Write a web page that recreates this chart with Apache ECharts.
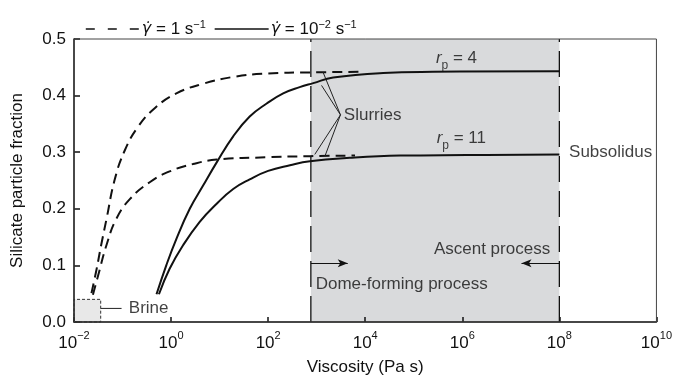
<!DOCTYPE html>
<html><head><meta charset="utf-8">
<script src="https://cdn.jsdelivr.net/npm/echarts@6/dist/echarts.min.js"></script>
<style>html,body{margin:0;padding:0;background:#fff}#c{width:675px;height:381px}</style>
</head><body><div id="c"></div>
<script>
// x values are log10 of viscosity (Pa s); y values are silicate particle fraction
const dashedRp4LogVisc = [-1.64, -1.54, -1.44, -1.33, -1.16, -0.955, -0.68, -0.32, 0.11, 0.66, 1.28, 1.97, 2.86, 3.93];
const dashedRp4Frac    = [0.051, 0.091, 0.136, 0.182, 0.252, 0.303, 0.345, 0.379, 0.404, 0.421, 0.433, 0.439, 0.441, 0.442];
const dashedRp11LogVisc = [-1.61, -1.50, -1.33, -1.13, -0.85, -0.44, -0.03, 0.45, 0.94, 1.97, 2.86, 3.79];
const dashedRp11Frac    = [0.048, 0.083, 0.136, 0.182, 0.217, 0.247, 0.266, 0.279, 0.287, 0.291, 0.293, 0.294];
const solidRp4LogVisc = [-0.30, -0.095, 0.11, 0.385, 0.66, 0.94, 1.28, 1.62, 1.97, 2.31, 2.65, 2.93, 3.34, 4.37, 5.4, 8];
const solidRp4Frac    = [0.049, 0.101, 0.147, 0.200, 0.241, 0.282, 0.328, 0.363, 0.386, 0.404, 0.415, 0.422, 0.432, 0.440, 0.442, 0.443];
const solidRp11LogVisc = [-0.25, -0.03, 0.25, 0.59, 0.94, 1.28, 1.62, 2.0, 2.45, 2.86, 3.68, 4.72, 6.09, 8];
const solidRp11Frac    = [0.049, 0.094, 0.136, 0.177, 0.209, 0.235, 0.252, 0.267, 0.277, 0.284, 0.290, 0.294, 0.295, 0.296];

const xTickExponents = [-2, 0, 2, 4, 6, 8, 10];
const yTicks = [0.0, 0.1, 0.2, 0.3, 0.4, 0.5];
const legendNames = ['γ̇ = 1 s⁻¹', 'γ̇ = 10⁻² s⁻¹'];
const shadeLogRange = [2.88, 8];      // slurry window in log10 viscosity
const brineLogRange = [-2, -1.45];
const brineFracMax = 0.04;

const FONT = 'Liberation Sans, Arial, sans-serif';
const FS = 17;
const pairs = (xs, ys) => xs.map((x, i) => [x, ys[i]]);
const supExp = v => (v < 0 ? '−' + (-v) : String(v));

const chart = echarts.init(document.getElementById('c'), null, {renderer: 'canvas'});

const curve = (name, xs, ys, dashed) => ({
  type: 'line', name, data: pairs(xs, ys), symbol: 'none', smooth: 0.45,
  itemStyle: {color: '#111'},
  lineStyle: {color: '#111', width: 2, type: dashed ? [10, 6] : 'solid'}, z: 4, silent: true
});
const thin = (pts, extra) => Object.assign({
  type: 'line', data: pts, symbol: 'none', silent: true, z: 5,
  lineStyle: {color: '#222', width: 1}
}, extra || {});
const textAt = (pt, text, pos, extra) => ({
  type: 'scatter', data: [pt], symbolSize: 0, silent: true, z: 6,
  label: Object.assign({show: true, position: pos, formatter: text, color: '#111',
    fontFamily: FONT, fontSize: FS, distance: 0,
    rich: {
      i: {fontStyle: 'italic', fontSize: FS, fontFamily: FONT, color: '#111', lineHeight: 17, verticalAlign: 'top'},
      sub: {fontSize: 12, fontFamily: FONT, color: '#111', lineHeight: 22, verticalAlign: 'bottom'},
      t: {fontSize: FS, fontFamily: FONT, color: '#111', lineHeight: 17, verticalAlign: 'top'}
    }}, extra || {})
});

const option = {
  animation: false,
  backgroundColor: '#fff',
  grid: {left: 74, right: 18, top: 39, bottom: 57, show: true, borderColor: '#444', borderWidth: 1, z: 10},
  legend: {
    top: 14, left: 80, itemWidth: 54, itemHeight: 14, itemGap: 8, selectedMode: false,
    data: [
      {name: legendNames[0], itemStyle: {opacity: 0}, lineStyle: {type: [9, 13], width: 1.6, color: '#111'}},
      {name: legendNames[1], itemStyle: {opacity: 0}, lineStyle: {type: 'solid', width: 1.6, color: '#111'}}
    ],
    formatter: n => n === legendNames[0]
      ? '{g|γ̇} = 1 s{sup|−1}'
      : '{g|γ̇} = 10{sup|−2} s{sup|−1}',
    textStyle: {fontFamily: FONT, fontSize: FS, color: '#111', padding: [0, 0, 0, -3],
      rich: {
        g: {fontStyle: 'italic', fontFamily: 'DejaVu Sans, sans-serif', fontSize: 16, color: '#111', lineHeight: 20},
        sup: {fontFamily: FONT, fontSize: 11, color: '#111', verticalAlign: 'top', lineHeight: 12}
      }}
  },
  xAxis: {
    type: 'value', min: -2, max: 10, interval: 2, z: 8,
    name: 'Viscosity (Pa s)', nameLocation: 'middle', nameGap: 37,
    nameTextStyle: {fontFamily: FONT, fontSize: FS, color: '#111'},
    axisLine: {onZero: false, lineStyle: {color: '#111', width: 1.5}},
    axisTick: {inside: true, length: 5, lineStyle: {color: '#111', width: 1.5}},
    splitLine: {show: false},
    axisLabel: {
      margin: 8, color: '#111', fontFamily: FONT, fontSize: FS,
      formatter: v => xTickExponents.includes(v) ? '{b|10}{sup|' + supExp(v) + '}' : '',
      rich: {
        b: {fontFamily: FONT, fontSize: FS, color: '#111', lineHeight: 22, verticalAlign: 'bottom'},
        sup: {fontFamily: FONT, fontSize: 11, color: '#111', lineHeight: 12, verticalAlign: 'top'}
      }
    }
  },
  yAxis: {
    type: 'value', min: 0, max: 0.5, interval: 0.1, z: 8,
    name: 'Silicate particle fraction', nameLocation: 'middle', nameGap: 48,
    nameTextStyle: {fontFamily: FONT, fontSize: FS, color: '#111'},
    axisLine: {show: true, onZero: false, lineStyle: {color: '#111', width: 1.5}},
    axisTick: {show: true, inside: true, length: 6, lineStyle: {color: '#111', width: 1.5}},
    splitLine: {show: false},
    axisLabel: {margin: 8, color: '#111', fontFamily: FONT, fontSize: FS,
      formatter: v => yTicks.some(t => Math.abs(t - v) < 1e-9) ? v.toFixed(1) : ''}
  },
  series: [
    {type: 'line', data: [], silent: true, z: 1,
      markArea: {silent: true, itemStyle: {color: '#d9dadc'},
        data: [[{coord: [shadeLogRange[0], 0]}, {coord: [shadeLogRange[1], 0.5]}]]}},
    {type: 'line', data: [], silent: true, z: 3,
      markArea: {silent: true, itemStyle: {color: '#e8e8e8', borderColor: '#333', borderWidth: 1, borderType: [3, 2]},
        data: [[{coord: [brineLogRange[0], 0]}, {coord: [brineLogRange[1], brineFracMax]}]]}},
    thin([[shadeLogRange[0], 0], [shadeLogRange[0], 0.5]], {lineStyle: {color: '#111', width: 1.3, type: [26, 9]}, z: 3}),
    thin([[shadeLogRange[1], 0], [shadeLogRange[1], 0.5]], {lineStyle: {color: '#111', width: 1.3, type: [26, 9]}, z: 3}),
    curve(legendNames[0], dashedRp4LogVisc, dashedRp4Frac, true),
    curve(legendNames[0], dashedRp11LogVisc, dashedRp11Frac, true),
    curve(legendNames[1], solidRp4LogVisc, solidRp4Frac, false),
    curve(legendNames[1], solidRp11LogVisc, solidRp11Frac, false),
    thin([[brineLogRange[1], 0.024], [-1.02, 0.024]]),
    thin([[3.13, 0.4416], [3.49, 0.366], [3.10, 0.418]]),
    thin([[2.96, 0.296], [3.49, 0.366], [3.17, 0.293]]),
    {type: 'line', data: [], silent: true, z: 5,
      markLine: {silent: true, symbol: ['none', 'arrow'], symbolSize: [6, 10], label: {show: false},
        lineStyle: {color: '#111', width: 1, type: 'solid'},
        data: [
          [{coord: [shadeLogRange[0], 0.104]}, {coord: [3.64, 0.104]}],
          [{coord: [shadeLogRange[1], 0.104]}, {coord: [7.22, 0.104]}]
        ]}},
    textAt([-0.87, 0.024], 'Brine', 'right'),
    textAt([3.56, 0.366], 'Slurries', 'right'),
    textAt([8.2, 0.300], 'Subsolidus', 'right'),
    textAt([7.81, 0.128], 'Ascent process', 'left'),
    textAt([2.98, 0.067], 'Dome-forming process', 'right'),
    textAt([5.88, 0.461], '{i|r}{sub|p}{t| = 4}', 'inside'),
    textAt([5.98, 0.320], '{i|r}{sub|p}{t| = 11}', 'inside')
  ]
};
chart.setOption(option);
</script>
</body></html>
